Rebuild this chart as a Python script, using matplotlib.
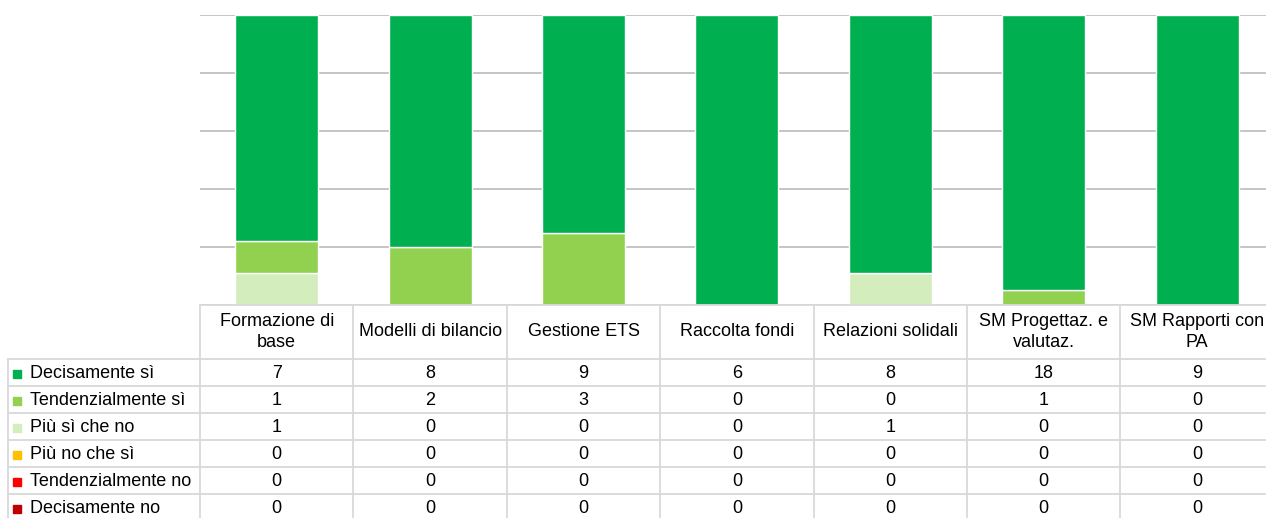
import matplotlib.pyplot as plt
import numpy as np

categories = ["Formazione di\nbase", "Modelli di bilancio", "Gestione ETS", "Raccolta fondi",
              "Relazioni solidali", "SM Progettaz. e\nvalutaz.", "SM Rapporti con\nPA"]
series = ["Decisamente sì", "Tendenzialmente sì", "Più sì che no",
          "Più no che sì", "Tendenzialmente no", "Decisamente no"]
decisamente_si = [7, 8, 9, 6, 8, 18, 9]
tendenzialmente_si = [1, 2, 3, 0, 0, 1, 0]
piu_si_che_no = [1, 0, 0, 0, 1, 0, 0]
piu_no_che_si = [0, 0, 0, 0, 0, 0, 0]
tendenzialmente_no = [0, 0, 0, 0, 0, 0, 0]
decisamente_no = [0, 0, 0, 0, 0, 0, 0]
colors = ["#00B050", "#92D050", "#D4EDBC", "#FFC000", "#FF0000", "#C00000"]

values = np.array([decisamente_si, tendenzialmente_si, piu_si_che_no,
                   piu_no_che_si, tendenzialmente_no, decisamente_no], dtype=float)
pct = values / values.sum(axis=0) * 100

plt.rcParams["font.family"] = ["Liberation Sans", "DejaVu Sans"]

W, H = 1266, 518
col_w = 153.4
fig = plt.figure(figsize=(W / 100, H / 100), dpi=100)

# chart area
ax = fig.add_axes([200 / W, (H - 305) / H, 7 * col_w / W, 290 / H])
x = np.arange(len(categories))
bottom = np.zeros(len(categories))
for i in reversed(range(len(series))):
    ax.bar(x, pct[i], 0.54, bottom=bottom, color=colors[i], edgecolor="white", linewidth=1, zorder=2)
    bottom += pct[i]
ax.set_xlim(-0.5, 6.5)
ax.set_ylim(0, 100)
ax.set_yticks(range(0, 101, 20))
ax.set_xticks([])
ax.tick_params(left=False, labelleft=False)
ax.yaxis.grid(True, color="#c0c0c0", linewidth=1.3)
ax.set_axisbelow(True)
for s in ax.spines.values():
    s.set_visible(False)

# data table
x_left = -0.5 - 192 / col_w
tax = fig.add_axes([8 / W, (H - 521) / H, (192 + 7 * col_w) / W, 216 / H])
tax.set_xlim(x_left, 6.5)
tax.set_ylim(8, 0)
tax.axis("off")
lc = "#d9d9d9"
tax.plot([-0.5, 6.5], [0, 0], color=lc, lw=1.3, clip_on=False)
for r in range(2, 9):
    tax.plot([x_left, 6.5], [r, r], color=lc, lw=1.3, clip_on=False)
for k in range(8):
    tax.plot([-0.5 + k, -0.5 + k], [0, 8], color=lc, lw=1.3, clip_on=False)
tax.plot([x_left, x_left], [2, 8], color=lc, lw=1.3, clip_on=False)

fs = 13
for i, cat in enumerate(categories):
    tax.text(i, 1, cat, ha="center", va="center", fontsize=fs, linespacing=1.35, clip_on=False)
for r, name in enumerate(series):
    y = 2.55 + r
    tax.plot(x_left + 9 / col_w, y, marker="s", markersize=5.8, color=colors[r], clip_on=False)
    tax.text(x_left + 22 / col_w, y, name, ha="left", va="center", fontsize=fs)
    for i in range(len(categories)):
        tax.text(i, y, f"{int(values[r, i])}", ha="center", va="center", fontsize=fs)

fig.savefig("out.png", dpi=100)
